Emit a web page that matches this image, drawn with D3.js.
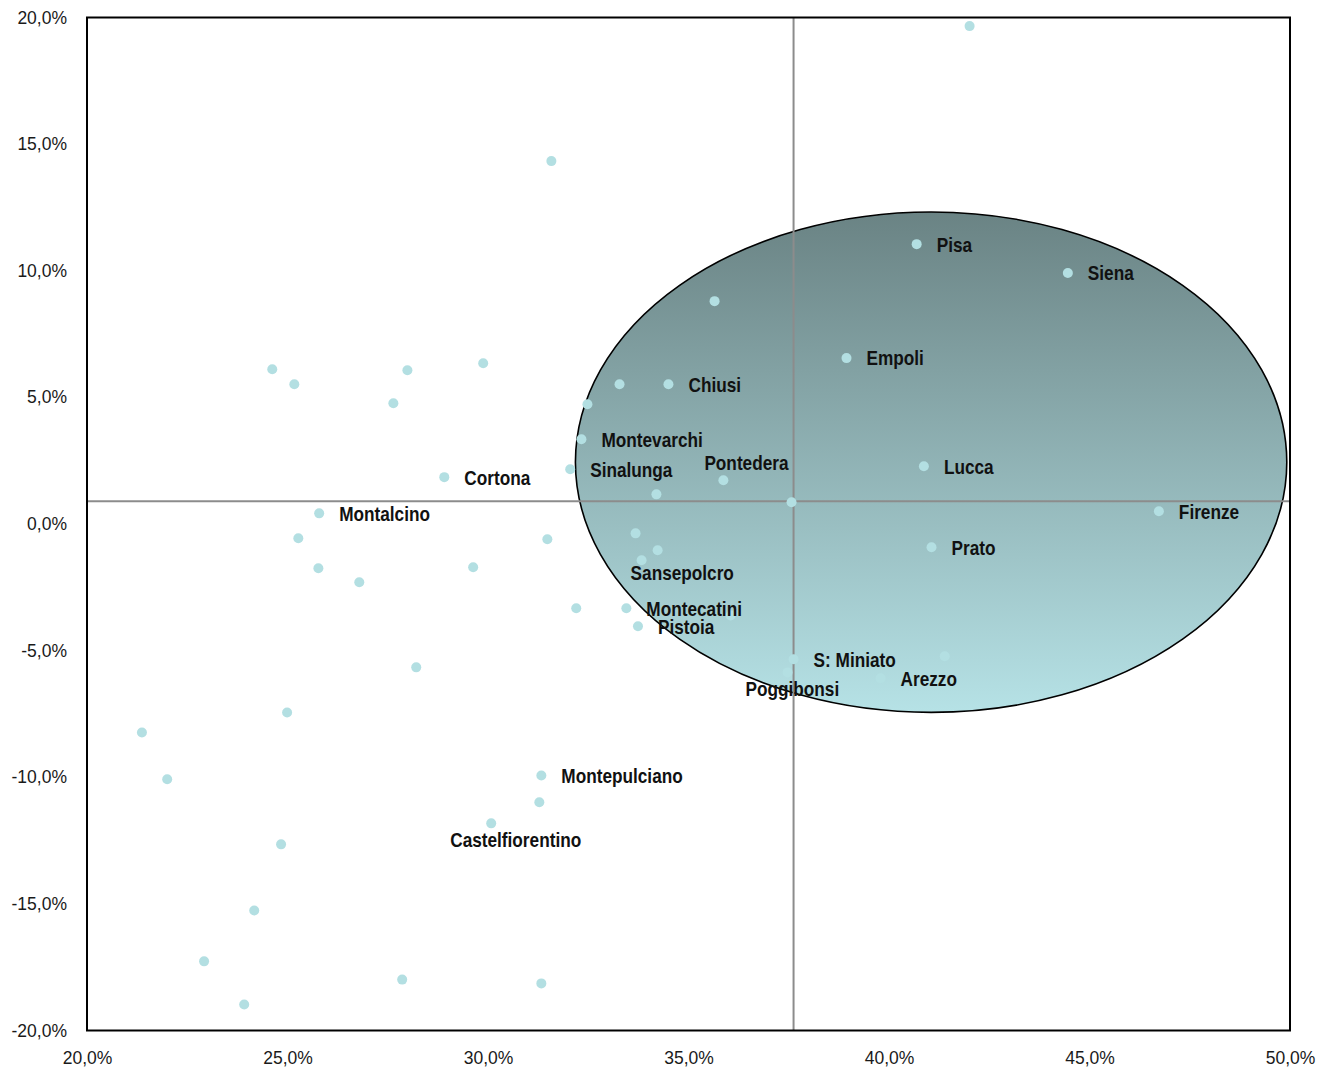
<!DOCTYPE html>
<html>
<head>
<meta charset="utf-8">
<script src="https://cdn.jsdelivr.net/npm/d3@7"></script>
<style>
  html, body { margin: 0; padding: 0; background: #ffffff; }
  svg { display: block; }
</style>
</head>
<body>
<svg id="chart" width="1320" height="1070"></svg>
<script>
// ---------------- DATA ----------------
const xValues = [42.01, 31.58, 40.69, 44.46, 35.65, 38.94, 29.88, 24.62, 27.99, 25.17,
                 33.28, 34.50, 27.64, 32.48, 32.33, 32.05, 28.91, 35.87, 34.20, 40.87,
                 37.57, 46.73, 25.79, 25.27, 31.48, 33.68, 41.06, 34.23, 33.83, 25.77,
                 29.63, 26.79, 32.20, 33.45, 33.74, 36.05, 28.21, 37.62, 37.47, 39.79,
                 41.39, 24.99, 21.37, 22.00, 31.33, 31.28, 30.08, 24.84, 24.17, 22.92,
                 27.86, 31.33, 23.92];
const yValues = [19.66, 14.33, 11.05, 9.91, 8.80, 6.55, 6.35, 6.11, 6.07, 5.52,
                 5.52, 5.52, 4.77, 4.73, 3.35, 2.16, 1.85, 1.73, 1.17, 2.28,
                 0.86, 0.50, 0.42, -0.56, -0.60, -0.37, -0.92, -1.04, -1.43, -1.75,
                 -1.71, -2.30, -3.33, -3.33, -4.04, -3.61, -5.66, -5.34, -5.86, -6.09,
                 -5.22, -7.44, -8.23, -10.08, -9.93, -10.99, -11.82, -12.65, -15.26, -17.27,
                 -17.99, -18.14, -18.97];
const names = ["", "", "Pisa", "Siena", "", "Empoli", "", "", "", "",
               "", "Chiusi", "", "", "Montevarchi", "Sinalunga", "Cortona", "Pontedera", "", "Lucca",
               "", "Firenze", "Montalcino", "", "", "", "Prato", "", "Sansepolcro", "",
               "", "", "", "Montecatini", "Pistoia", "", "", "S: Miniato", "Poggibonsi", "Arezzo",
               "", "", "", "", "Montepulciano", "", "Castelfiorentino", "", "", "",
               "", "", ""];
const xTicks = [20, 25, 30, 35, 40, 45, 50];
const yTicks = [-20, -15, -10, -5, 0, 5, 10, 15, 20];
const xDomain = [20, 50];
const yDomain = [-20, 20];
// reference (mean) lines
const refX = 37.62;
const refY = 0.90;
// highlighted ellipse: centre and radii in data units
const ellipseCenter = [41.05, 2.44];
const ellipseRadii = [8.87, 9.88];

// ---------------- LAYOUT / STYLE ----------------
// label placement: default right of the point; exceptions (pixel offsets of text start)
const labelOffsets = {
  "Pontedera": [-19, -18],
  "Sansepolcro": [-11, 12],
  "Poggibonsi": [-42, 16],
  "Castelfiorentino": [-41, 16]
};
const margin = { left: 87, top: 17.5, right: 30, bottom: 39.5 };
const W = 1320, H = 1070;
const iw = W - margin.left - margin.right;
const ih = H - margin.top - margin.bottom;

const svg = d3.select("#chart");
const g = svg.append("g").attr("transform", `translate(${margin.left},${margin.top})`);

const x = d3.scaleLinear().domain(xDomain).range([0, iw]);
const y = d3.scaleLinear().domain(yDomain).range([ih, 0]);

const locale = d3.formatLocale({ decimal: ",", thousands: ".", grouping: [3], currency: ["", "€"], minus: "-" });
const fmt = v => locale.format(".1f")(v) + "%";

// gradient for ellipse
const defs = svg.append("defs");
const grad = defs.append("linearGradient").attr("id", "ellGrad")
  .attr("x1", "0").attr("y1", "0").attr("x2", "0").attr("y2", "1");
grad.append("stop").attr("offset", "0%").attr("stop-color", "#6a8384");
grad.append("stop").attr("offset", "100%").attr("stop-color", "#b6e2e6");

// ellipse
g.append("ellipse")
  .attr("cx", x(ellipseCenter[0]))
  .attr("cy", y(ellipseCenter[1]))
  .attr("rx", x(ellipseCenter[0] + ellipseRadii[0]) - x(ellipseCenter[0]))
  .attr("ry", y(ellipseCenter[1]) - y(ellipseCenter[1] + ellipseRadii[1]))
  .attr("fill", "url(#ellGrad)")
  .attr("stroke", "#000")
  .attr("stroke-width", 1.6);

// reference lines
g.append("line")
  .attr("x1", x(refX)).attr("x2", x(refX))
  .attr("y1", 0).attr("y2", ih)
  .attr("stroke", "#8c8c8c").attr("stroke-width", 2);
g.append("line")
  .attr("x1", 0).attr("x2", iw)
  .attr("y1", y(refY)).attr("y2", y(refY))
  .attr("stroke", "#8c8c8c").attr("stroke-width", 2);

// points
const data = xValues.map((v, i) => ({ x: v, y: yValues[i], name: names[i] }));
g.append("g").selectAll("circle")
  .data(data).join("circle")
  .attr("cx", d => x(d.x))
  .attr("cy", d => y(d.y))
  .attr("r", 5)
  .attr("fill", "#b3dfe2");

// labels (narrow bold font emulated by horizontal scaling)
const labelG = g.append("g");
data.filter(d => d.name).forEach(d => {
  const off = labelOffsets[d.name] || [20, 0];
  const px = x(d.x) + off[0];
  const py = y(d.y) + off[1];
  labelG.append("text")
    .attr("transform", `translate(${px},${py}) scale(0.82,1)`)
    .attr("dy", "0.35em")
    .attr("font-family", "'Liberation Sans', Arial, sans-serif")
    .attr("font-weight", "bold")
    .attr("font-size", 21)
    .attr("fill", "#111")
    .text(d.name);
});

// axes
const xAxis = g.append("g")
  .attr("transform", `translate(0,${ih})`)
  .call(d3.axisBottom(x).tickValues(xTicks).tickFormat(fmt).tickSize(0).tickPadding(21));
const yAxis = g.append("g")
  .call(d3.axisLeft(y).tickValues(yTicks).tickFormat(fmt).tickSize(0).tickPadding(20));
[xAxis, yAxis].forEach(a => {
  a.select(".domain").remove();
  a.selectAll("text")
    .attr("font-family", "'Liberation Sans', Arial, sans-serif")
    .attr("font-size", 17.5)
    .attr("fill", "#1a1a1a");
});

// plot border
g.append("rect")
  .attr("x", 0).attr("y", 0).attr("width", iw).attr("height", ih)
  .attr("fill", "none").attr("stroke", "#000").attr("stroke-width", 2);
</script>
</body>
</html>
